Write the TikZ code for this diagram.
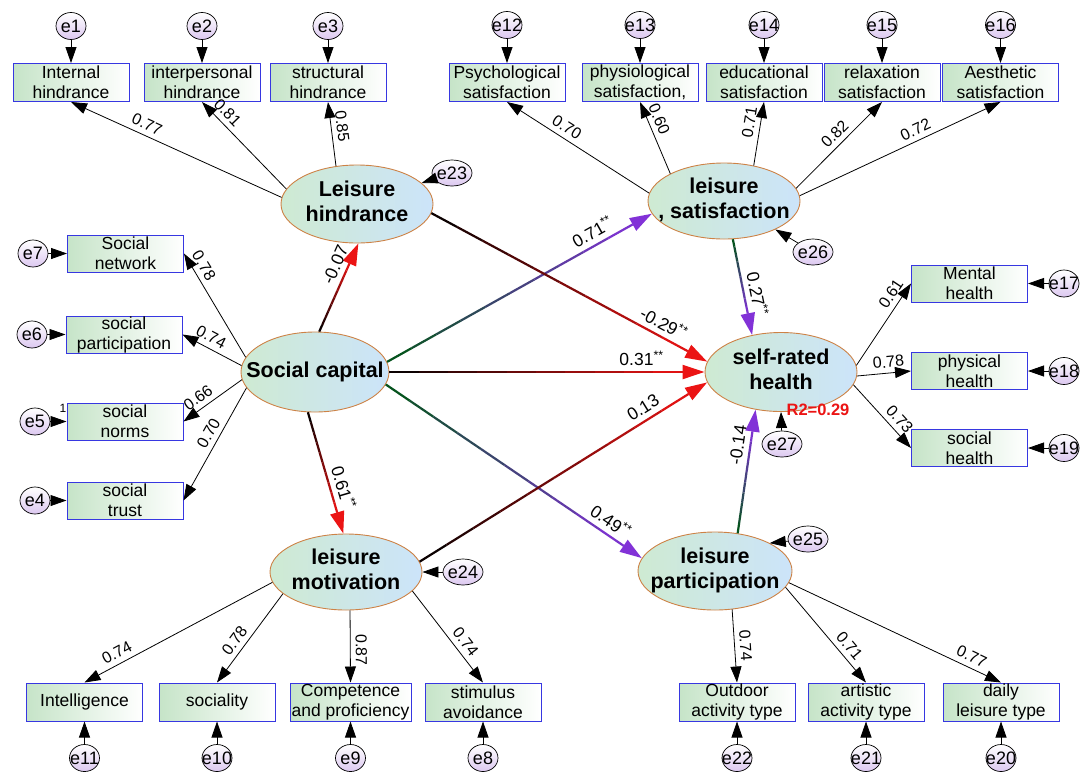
\documentclass[tikz,border=0pt]{standalone}
\usepackage{fontspec}
\setmainfont{Liberation Sans}
\usetikzlibrary{shapes.geometric, arrows.meta, calc}

\definecolor{boxgreen}{RGB}{198,228,200}
\definecolor{boxblue}{RGB}{55,55,225}
\definecolor{latgreen}{RGB}{206,234,210}
\definecolor{latblue}{RGB}{204,228,250}
\definecolor{latedge}{RGB}{205,130,70}
\definecolor{errlilac}{RGB}{220,200,240}
\definecolor{pathred}{RGB}{235,20,20}
\definecolor{pathpurple}{RGB}{130,50,215}
\definecolor{pathgreen}{RGB}{0,85,20}

\tikzset{
  latent/.style={ellipse, draw=latedge, line width=0.9pt, left color=latgreen, right color=latblue,
    inner sep=0pt, font=\fontsize{21.5}{24.5}\selectfont\bfseries},
  obsbox/.style={rectangle, draw=boxblue, line width=1pt, left color=boxgreen, right color=white,
    minimum width=116pt, minimum height=38pt, inner sep=0pt, align=center,
    font=\fontsize{17.5}{20}\selectfont},
  errnode/.style={ellipse, draw=black, line width=0.7pt, top color=white, bottom color=errlilac,
    minimum width=30pt, minimum height=27pt, inner sep=0pt, font=\fontsize{18}{20}\selectfont},
  resnode/.style={errnode, minimum width=40pt, minimum height=26pt},
  meas/.style={draw=black, line width=0.8pt, -{Triangle[length=16pt,width=11pt]}},
  errarrow/.style={meas},
  struct/.style={line width=2.2pt},
  mlabel/.style={font=\fontsize{16}{18}\selectfont, sloped, inner sep=5pt},
  slabel/.style={font=\fontsize{17.5}{19}\selectfont, sloped, inner sep=6pt},
}

\newcommand{\zw}[1]{\makebox[0pt]{#1}}
\newcommand{\twoline}[2]{\makebox[0pt]{\begin{tabular}{@{}c@{}}#1\\#2\end{tabular}}}
% colour runs from #3 to #4 along the path, tip in #4
\newcommand{\gradarrow}[4]{%
  \coordinate (gq) at ($(#2)!22pt!(#1)$);
  \foreach \k in {0,...,9}{
    \pgfmathsetmacro{\ga}{\k/10}
    \pgfmathsetmacro{\gb}{(\k+1)/10}
    \pgfmathtruncatemacro{\gc}{10*\k+5}
    \draw[struct, #4!\gc!#3] ($(#1)!\ga!(gq)$) -- ($(#1)!\gb!(gq)$);
  }
  \draw[struct, #4, -{Triangle[length=22pt,width=14pt]}] (gq) -- (#2);
}

\begin{document}
\begin{tikzpicture}[x=1pt, y=-1pt]
  \useasboundingbox (0,0) rectangle (1084,780);

  % Latent variables
  \node[latent, minimum width=152pt, minimum height=78pt] (lh) at (357,204) {\twoline{Leisure}{hindrance}};
  \node[latent, minimum width=152pt, minimum height=76pt] (ls) at (724,201) {\twoline{leisure}{, satisfaction}};
  \node[latent, minimum width=148pt, minimum height=80pt] (sc) at (315,372) {\zw{Social capital}};
  \node[latent, minimum width=152pt, minimum height=79pt] (srh) at (781,372) {\twoline{self-rated}{health}};
  \node[latent, minimum width=152pt, minimum height=76pt] (lm) at (346,572) {\twoline{leisure}{motivation}};
  \node[latent, minimum width=154pt, minimum height=78pt] (lp) at (715,571) {\twoline{leisure}{participation}};

  % Hindrance indicators
  \node[obsbox] (ih) at (71,82.5) {Internal\\hindrance};
  \node[obsbox] (ip) at (202,82.5) {interpersonal\\hindrance};
  \node[obsbox] (sh) at (328,82.5) {structural\\hindrance};

  % Satisfaction indicators
  \node[obsbox] (psy) at (507,82.5) {Psychological\\satisfaction};
  \node[obsbox] (phy) at (640,82.5) {physiological\\satisfaction,};
  \node[obsbox] (edu) at (764,82.5) {educational\\satisfaction};
  \node[obsbox] (rel) at (882,82.5) {relaxation\\satisfaction};
  \node[obsbox] (aes) at (1000.5,82.5) {Aesthetic\\satisfaction};

  % Social capital indicators
  \node[obsbox, minimum height=37pt] (snet) at (125.5,253.5) {Social\\network};
  \node[obsbox, minimum height=37pt] (spar) at (124,334.5) {social\\participation};
  \node[obsbox, minimum height=37pt] (snor) at (125,421.5) {social\\norms};
  \node[obsbox, minimum height=37pt] (stru) at (125,500.5) {social\\trust};

  % Health indicators
  \node[obsbox, minimum height=37pt] (mh) at (969.5,283.5) {Mental\\health};
  \node[obsbox, minimum height=37pt] (ph) at (969.5,371) {physical\\health};
  \node[obsbox, minimum height=37pt] (sh2) at (969.5,448) {social\\health};

  % Motivation indicators
  \node[obsbox] (intl) at (84.5,702) {Intelligence};
  \node[obsbox] (soci) at (217,702) {sociality};
  \node[obsbox, minimum width=121pt] (comp) at (350.5,702) {Competence\\and proficiency};
  \node[obsbox] (stim) at (483,702) {stimulus\\avoidance};

  % Participation indicators
  \node[obsbox] (outd) at (737,702) {Outdoor\\activity type};
  \node[obsbox] (arts) at (866,702) {artistic\\activity type};
  \node[obsbox] (dail) at (1001,702) {daily\\leisure type};

  % Error terms
  \node[errnode] (e1) at (71,26) {\zw{e1}};
  \node[errnode] (e2) at (202,26) {\zw{e2}};
  \node[errnode] (e3) at (328,26) {\zw{e3}};
  \node[errnode] (e12) at (507,25) {\zw{e12}};
  \node[errnode] (e13) at (640,25) {\zw{e13}};
  \node[errnode] (e14) at (764,25) {\zw{e14}};
  \node[errnode] (e15) at (882,25) {\zw{e15}};
  \node[errnode] (e16) at (1000.5,25) {\zw{e16}};
  \node[errnode] (e7) at (33,253.5) {\zw{e7}};
  \node[errnode] (e6) at (32,334.5) {\zw{e6}};
  \node[errnode] (e5) at (35,421.5) {\zw{e5}};
  \node[errnode] (e4) at (35,500.5) {\zw{e4}};
  \node[errnode] (e17) at (1064,283.5) {\zw{e17}};
  \node[errnode] (e18) at (1064,371) {\zw{e18}};
  \node[errnode] (e19) at (1064,448) {\zw{e19}};
  \node[errnode] (e11) at (84.5,758) {\zw{e11}};
  \node[errnode] (e10) at (217,758) {\zw{e10}};
  \node[errnode] (e9) at (350.5,758) {\zw{e9}};
  \node[errnode] (e8) at (483,758) {\zw{e8}};
  \node[errnode] (e22) at (737,758) {\zw{e22}};
  \node[errnode] (e21) at (866,758) {\zw{e21}};
  \node[errnode] (e20) at (1001,758) {\zw{e20}};
  \node[resnode] (e23) at (452,173) {\zw{e23}};
  \node[resnode] (e26) at (813,252) {\zw{e26}};
  \node[resnode] (e27) at (782,444) {\zw{e27}};
  \node[resnode] (e25) at (808,539) {\zw{e25}};
  \node[resnode] (e24) at (463,572) {\zw{e24}};

  \node[font=\fontsize{12}{14}\selectfont, inner sep=0pt] (one) at (63,408) {1};
  \node[font=\fontsize{16.5}{18}\selectfont\bfseries, text=pathred, inner sep=0pt] (rsq) at (818,410) {R2=0.29};

  % Error arrows
  \draw[errarrow] (e1) -- (ih);
  \draw[errarrow] (e2) -- (ip);
  \draw[errarrow] (e3) -- (sh);
  \draw[errarrow] (e12) -- (psy);
  \draw[errarrow] (e13) -- (phy);
  \draw[errarrow] (e14) -- (edu);
  \draw[errarrow] (e15) -- (rel);
  \draw[errarrow] (e16) -- (aes);
  \draw[errarrow] (e7) -- (snet);
  \draw[errarrow] (e6) -- (spar);
  \draw[errarrow] (e5) -- (snor);
  \draw[errarrow] (e4) -- (stru);
  \draw[errarrow] (e17) -- (mh);
  \draw[errarrow] (e18) -- (ph);
  \draw[errarrow] (e19) -- (sh2);
  \draw[errarrow] (e11) -- (intl);
  \draw[errarrow] (e10) -- (soci);
  \draw[errarrow] (e9) -- (comp);
  \draw[errarrow] (e8) -- (stim);
  \draw[errarrow] (e22) -- (outd);
  \draw[errarrow] (e21) -- (arts);
  \draw[errarrow] (e20) -- (dail);
  \draw[errarrow] (e23) -- (lh.18);
  \draw[errarrow] (e26) -- (ls.-29);
  \draw[errarrow] (e27) -- (srh.south);
  \draw[errarrow] (e25) -- (lp.27);
  \draw[errarrow] (e24) -- (lm.east);

  % Loadings
  \draw[meas] (lh.175) -- (ih.south) node[mlabel, pos=0.66, above] {0.77};
  \draw[meas] (lh.168) -- (ip.south) node[mlabel, pos=0.79, above] {0.81};
  \draw[meas] (lh.119) -- (sh.south) node[mlabel, pos=0.6, above] {0.85};
  \draw[meas] (ls.174) -- (psy.south) node[mlabel, pos=0.62, above] {0.70};
  \draw[meas] (ls.153) -- (phy.south) node[mlabel, pos=0.7, above] {0.60};
  \draw[meas] (ls.50) -- (edu.south) node[mlabel, pos=0.65, above] {0.71};
  \draw[meas] (ls.10) -- (rel.south) node[mlabel, pos=0.54, above] {0.82};
  \draw[meas] (ls.4) -- (aes.south) node[mlabel, pos=0.6, above] {0.72};
  \draw[meas] (sc.168) -- (snet.east) node[mlabel, pos=0.83, above] {0.78};
  \draw[meas] (sc.175) -- (spar.east) node[mlabel, pos=0.6, above] {0.74};
  \draw[meas] (sc.186) -- (snor.east) node[mlabel, pos=0.64, above] {0.66};
  \draw[meas] (sc.193) -- (stru.east) node[mlabel, pos=0.45, above] {0.70};
  \draw[meas] (srh.5) -- (mh.west) node[mlabel, pos=0.8, above] {0.61};
  \draw[meas] (srh.-3) -- (ph.west) node[mlabel, pos=0.6, above] {0.78};
  \draw[meas] (srh.-10) -- (sh2.west) node[mlabel, pos=0.66, above] {0.73};
  \draw[meas] (lm.188) -- (intl.north) node[mlabel, pos=0.8, above] {0.74};
  \draw[meas] (lm.199) -- (soci.north) node[mlabel, pos=0.6, above] {0.78};
  \draw[meas] (lm.-84) -- (comp.north) node[mlabel, pos=0.55, above] {0.87};
  \draw[meas] (lm.-16) -- (stim.north) node[mlabel, pos=0.63, above] {0.74};
  \draw[meas] (lp.-66) -- (outd.north) node[mlabel, pos=0.5, above] {0.74};
  \draw[meas] (lp.-13) -- (arts.north) node[mlabel, pos=0.69, above] {0.71};
  \draw[meas] (lp.-9) -- (dail.north) node[mlabel, pos=0.84, above] {0.77};

  % Structural paths
  \gradarrow{sc.84}{lh.-88}{black}{pathred}
  \path (sc.84) -- (lh.-88) node[slabel, pos=0.7, above] {-0.07};
  \gradarrow{sc.8}{ls.190}{pathgreen}{pathpurple}
  \path (sc.8) -- (ls.190) node[slabel, pos=0.8, above] {0.71\textsuperscript{**}};
  \gradarrow{sc.0}{srh.180}{black}{pathred}
  \path (sc.0) -- (srh.180) node[slabel, pos=0.8, above] {0.31\textsuperscript{**}};
  \gradarrow{sc.260}{lm.94}{black}{pathred}
  \path (sc.260) -- (lm.94) node[slabel, pos=0.65, above] {0.61\textsuperscript{**}};
  \gradarrow{sc.-10}{lp.170}{pathgreen}{pathpurple}
  \path (sc.-10) -- (lp.170) node[slabel, pos=0.85, above] {0.49\textsuperscript{**}};
  \gradarrow{lh.-7}{srh.172}{black}{pathred}
  \path (lh.-7) -- (srh.172) node[slabel, pos=0.82, above] {-0.29\textsuperscript{**}};
  \gradarrow{lm.8}{srh.188}{black}{pathred}
  \path (lm.8) -- (srh.188) node[slabel, pos=0.8, above] {0.13};
  \gradarrow{ls.-77}{srh.128}{pathgreen}{pathpurple}
  \path (ls.-77) -- (srh.128) node[slabel, pos=0.6, above] {0.27\textsuperscript{**}};
  \gradarrow{lp.59}{srh.236}{pathgreen}{pathpurple}
  \path (lp.59) -- (srh.236) node[slabel, pos=0.7, above] {-0.14};
\end{tikzpicture}
\end{document}
